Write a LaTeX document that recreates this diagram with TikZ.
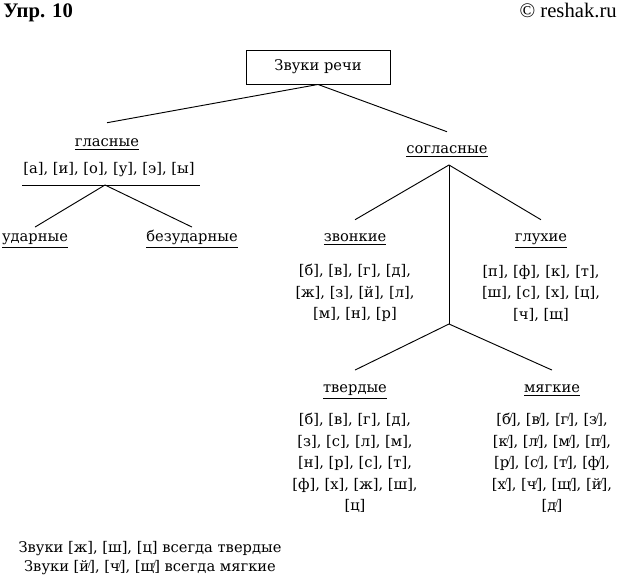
\documentclass[tikz,border=0pt]{standalone}
\usepackage{fontspec}
\setmainfont{DejaVu Serif}
\newfontfamily\hdfont{Liberation Serif}
\newcommand\mjg[1]{#1\raisebox{.55ex}{\kern-.08em\fontsize{6}{6}\selectfont/}\kern-.1em}
\newcommand\nl{\\\relax}
\tikzset{
  txt/.style={font=\fontsize{11}{16.1}\selectfont, inner sep=0pt},
  lst/.style={txt, align=center},
  head/.style={txt, anchor=base, text height=6pt, text depth=3pt, inner ysep=#1},
  lnk/.style={line width=0.7pt},
}

\begin{document}
\begin{tikzpicture}[x=0.75pt,y=0.75pt,yscale=-1,xscale=1]
\useasboundingbox (0,0) rectangle (619,581);

%Text Node: header
\node[anchor=base west, font=\hdfont\fontsize{15.5}{18}\selectfont\bfseries, inner sep=0pt] (upr) at (3,18) {Упр. 10};
\node[anchor=base east, font=\hdfont\fontsize{15.5}{18}\selectfont, inner sep=0pt] (site) at (617,18) {© reshak.ru};

%Shape: Rectangle
\node[txt, draw, line width=0.7pt, minimum width=108pt, minimum height=25.5pt] (root) at (318,67) {Звуки речи};

%Text Node: vowels
\node[head=12pt] (glas) at (107,147) {\underline{гласные}};
\node[lst] (glaslist) at (109,170) {[а], [и], [о], [у], [э], [ы]};
\coordinate (vl-a) at (22,185);
\coordinate (vl-b) at (200,185);
\coordinate (vjun) at (105,185);
\node[head=5pt] (udar) at (35,242) {\underline{ударные}};
\node[head=5pt] (bezud) at (192,242) {\underline{безударные}};

%Text Node: consonants
\node[head=10.5pt] (sogl) at (447,154) {\underline{согласные}};
\coordinate (cjun) at (449,165);
\node[head=10.5pt] (zvon) at (355,242) {\underline{звонкие}};
\node[head=10.5pt] (gluh) at (541,242) {\underline{глухие}};
\node[lst] (zvonlist) at (355,293) {[б], [в], [г], [д],\nl [ж], [з], [й], [л],\nl [м], [н], [р]};
\node[lst] (gluhlist) at (541,293) {[п], [ф], [к], [т],\nl [ш], [с], [х], [ц],\nl [ч], [щ]};
\coordinate (cjun2) at (449,324);
\node[head=11pt] (tver) at (355,393) {\underline{твердые}};
\node[head=11pt] (myag) at (552,393) {\underline{мягкие}};
\node[lst] (tverlist) at (355,463) {[б], [в], [г], [д],\nl [з], [с], [л], [м],\nl [н], [р], [с], [т],\nl [ф], [х], [ж], [ш],\nl [ц]};
\node[lst] (myaglist) at (552,463) {[\mjg{б}], [\mjg{в}], [\mjg{г}], [\mjg{з}],\nl [\mjg{к}], [\mjg{л}], [\mjg{м}], [\mjg{п}],\nl [\mjg{р}], [\mjg{с}], [\mjg{т}], [\mjg{ф}],\nl [\mjg{х}], [\mjg{ч}], [\mjg{щ}], [\mjg{й}],\nl [\mjg{д}]};

%Text Node: note
\node[txt, align=center, font=\fontsize{11}{14.3}\selectfont] (note) at (150,558) {Звуки [ж], [ш], [ц] всегда твердые\nl Звуки [\mjg{й}], [\mjg{ч}], [\mjg{щ}] всегда мягкие};

%Lines
\draw[lnk] (root.south) -- (glas.north);
\draw[lnk] (root.south) -- (sogl.north);
\draw[lnk] (vl-a) -- (vl-b);
\draw[lnk] (vjun) -- (udar.north);
\draw[lnk] (vjun) -- (bezud.north);
\draw[lnk] (cjun) -- (zvon.north);
\draw[lnk] (cjun) -- (gluh.north);
\draw[lnk] (cjun) -- (cjun2);
\draw[lnk] (cjun2) -- (tver.north);
\draw[lnk] (cjun2) -- (myag.north);

\end{tikzpicture}
\end{document}
